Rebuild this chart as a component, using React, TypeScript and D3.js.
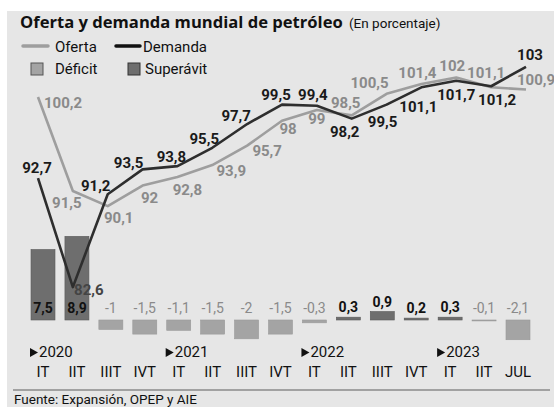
import React from "react";
import * as d3 from "d3";

const categories = ["IT", "IIT", "IIIT", "IVT", "IT", "IIT", "IIIT", "IVT", "IT", "IIT", "IIIT", "IVT", "IT", "IIT", "JUL"];
const years = [
  { label: "2020", index: 0 },
  { label: "2021", index: 4 },
  { label: "2022", index: 8 },
  { label: "2023", index: 12 },
];
const oferta = [100.2, 91.5, 90.1, 92, 92.8, 93.9, 95.7, 98, 99, 98.5, 100.5, 101.4, 102, 101.1, 100.9];
const demanda = [92.7, 82.6, 91.2, 93.5, 93.8, 95.5, 97.7, 99.5, 99.4, 98.2, 99.5, 101.1, 101.7, 101.2, 103];
const balance = [7.5, 8.9, -1, -1.5, -1.1, -1.5, -2, -1.5, -0.3, 0.3, 0.9, 0.2, 0.3, -0.1, -2.1];

// label placement offsets (dx, dy) relative to each point
const demandaLabelOffsets: [number, number][] = [
  [-1, -5], [16, 8], [-12, -3], [-14, -1], [-6, -4], [-8, -4], [-11, -3], [-6, -5],
  [-4, -6], [-7, 18], [-4, 22], [-3, 25], [0, 19], [6, 19], [4, -7],
];
const ofertaLabelOffsets: [number, number][] = [
  [25, 11], [-6, 17], [11, 17], [7, 17], [10, 18], [19, 11], [20, 10], [6, 13],
  [0, 14], [-6, -7], [-17, -6], [-4, -6], [-4, -7], [-5, -9], [10, -4],
];

const fmt = (v: number) => String(v).replace(".", ",");

const FONT = "Roboto, 'DejaVu Sans', sans-serif";
const TITLE_FONT = "'Open Sans', Roboto, sans-serif";
const C_OFERTA = "#9e9e9e";
const C_DEMANDA = "#2e2e2e";
const C_DEFICIT = "#a4a4a4";
const C_SUPER = "#6e6e6e";
const C_GRAYTXT = "#8a8a8a";

export default function App() {
  const W = 554;
  const H = 407;
  const idx = categories.map((_, i) => i);

  const xLine = d3.scalePoint<number>().domain(idx).range([38, 526]);
  const xCat = d3.scalePoint<number>().domain(idx).range([43, 518]);
  const yLine = d3.scaleLinear().domain([82, 104]).range([293.6, 56]);
  const yBar = d3.scaleLinear().domain([-3, 9]).range([348.2, 235.4]);
  const barW = 24;

  const line = d3
    .line<number>()
    .x((_, i) => xLine(i) as number)
    .y((d) => yLine(d));

  const y0 = yBar(0);

  return (
    <svg
      width={W}
      height={H}
      style={{ position: "absolute", left: 0, top: 0, display: "block" }}
      fontFamily={FONT}
    >
      <rect x={0} y={0} width={W} height={H} fill="#ffffff" />
      <rect x={7} y={11} width={W - 7} height={H - 11} fill="#e6e6e6" />

      {/* Title */}
      <text x={20} y={28} fontSize={16.6} fontWeight="bold" fill="#111" fontFamily={TITLE_FONT}>
        Oferta y demanda mundial de petróleo
      </text>
      <text x={349} y={28} fontSize={13.5} fill="#111">(En porcentaje)</text>

      {/* Legend */}
      <line x1={23} x2={48} y1={46} y2={46} stroke={C_OFERTA} strokeWidth={3.5} strokeLinecap="round" />
      <text x={55} y={52} fontSize={15} fill="#111">Oferta</text>
      <line x1={116} x2={140} y1={46} y2={46} stroke="#111" strokeWidth={3.5} strokeLinecap="round" />
      <text x={143} y={52} fontSize={15} fill="#111">Demanda</text>
      <rect x={31} y={63} width={12} height={12} fill={C_DEFICIT} stroke="#555" strokeWidth={1} />
      <text x={55} y={74} fontSize={15} fill="#111">Déficit</text>
      <rect x={128} y={63} width={12} height={12} fill={C_SUPER} stroke="#333" strokeWidth={1} />
      <text x={145} y={74} fontSize={15} fill="#111">Superávit</text>

      {/* Bars */}
      {balance.map((v, i) => {
        const cx = xCat(i) as number;
        const top = Math.min(yBar(v), y0);
        const h = Math.abs(yBar(v) - y0);
        return (
          <rect
            key={"b" + i}
            x={cx - barW / 2}
            y={top}
            width={barW}
            height={h}
            fill={v >= 0 ? C_SUPER : C_DEFICIT}
            stroke={v >= 0 ? "#5a5a5a" : "#999"}
            strokeWidth={0.6}
          />
        );
      })}

      {/* Lines */}
      <path d={line(oferta) || ""} fill="none" stroke={C_OFERTA} strokeWidth={2.6} strokeLinejoin="round" />
      <path d={line(demanda) || ""} fill="none" stroke={C_DEMANDA} strokeWidth={2.6} strokeLinejoin="round" />

      {/* Bar labels */}
      {balance.map((v, i) => {
        const cx = xCat(i) as number;
        const pos = v > 0;
        const by = pos && v < 5 ? yBar(v) - 5 : y0 - 7;
        return (
          <text
            key={"bl" + i}
            x={cx}
            y={by}
            textAnchor="middle"
            fontSize={14}
            fontWeight={pos ? "bold" : "normal"}
            fill={pos ? "#111" : C_GRAYTXT}
          >
            {fmt(v)}
          </text>
        );
      })}

      {/* Oferta labels */}
      {oferta.map((v, i) => (
        <text
          key={"ol" + i}
          x={(xLine(i) as number) + ofertaLabelOffsets[i][0]}
          y={yLine(v) + ofertaLabelOffsets[i][1]}
          textAnchor="middle"
          fontSize={15}
          fontWeight="bold"
          fill={C_GRAYTXT}
        >
          {fmt(v)}
        </text>
      ))}

      {/* Demanda labels */}
      {demanda.map((v, i) => (
        <text
          key={"dl" + i}
          x={(xLine(i) as number) + demandaLabelOffsets[i][0]}
          y={yLine(v) + demandaLabelOffsets[i][1]}
          textAnchor="middle"
          fontSize={15}
          fontWeight="bold"
          fill={i === 1 ? "#444" : "#1a1a1a"}
        >
          {fmt(v)}
        </text>
      ))}

      {/* Year labels */}
      {years.map((y) => {
        const sx = (xCat(y.index) as number) - 13;
        return (
          <g key={y.label}>
            <path d={`M${sx},${348} L${sx + 8},${352.5} L${sx},${357} Z`} fill="#111" />
            <text x={sx + 9} y={357} fontSize={15} fill="#111">{y.label}</text>
          </g>
        );
      })}

      {/* Category labels */}
      {categories.map((c, i) => (
        <text key={"c" + i} x={xCat(i) as number} y={377} textAnchor="middle" fontSize={15} fill="#111">
          {c}
        </text>
      ))}

      {/* Footer */}
      <line x1={13} x2={550} y1={390} y2={390} stroke="#8a8a8a" strokeWidth={1.5} />
      <text x={14} y={404} fontSize={13.5} fill="#111">Fuente: Expansión, OPEP y AIE</text>
    </svg>
  );
}
